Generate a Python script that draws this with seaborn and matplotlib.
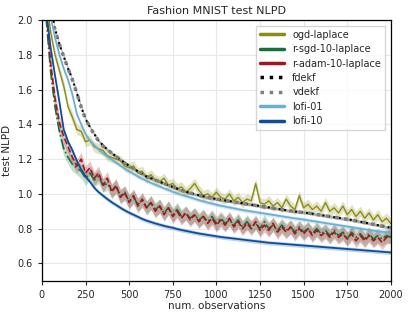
import numpy as np
import matplotlib
matplotlib.use('Agg')
import matplotlib.pyplot as plt
from matplotlib.lines import Line2D
import seaborn as sns

# observation counts (every 25 obs)
n_obs = list(range(0, 2001, 25))

ogd_laplace = [2.30, 2.12, 1.93, 1.80, 1.71, 1.62, 1.50, 1.44, 1.37, 1.36,
               1.30, 1.31, 1.27, 1.26, 1.25, 1.22, 1.21, 1.20, 1.19, 1.16,
               1.15, 1.16, 1.12, 1.13, 1.09, 1.11, 1.08, 1.07, 1.09, 1.05,
               1.06, 1.03, 1.04, 1.01, 1.03, 1.06, 1.02, 0.99, 1.00, 0.98,
               1.01, 0.98, 0.97, 1.00, 0.96, 0.98, 0.95, 0.97, 0.96, 1.06,
               0.95, 0.94, 0.96, 0.93, 0.95, 0.92, 0.97, 0.93, 0.91, 0.99,
               0.92, 0.94, 0.91, 0.93, 0.90, 0.95, 0.90, 0.92, 0.89, 0.93,
               0.88, 0.91, 0.87, 0.90, 0.86, 0.89, 0.85, 0.88, 0.84, 0.86,
               0.83]
r_sgd = [2.30, 2.00, 1.70, 1.50, 1.36, 1.26, 1.21, 1.17, 1.15, 1.13,
         1.09, 1.12, 1.08, 1.10, 1.05, 1.06, 1.02, 1.04, 0.99, 1.00,
         0.96, 0.98, 0.94, 0.96, 0.92, 0.95, 0.91, 0.93, 0.89, 0.92,
         0.88, 0.91, 0.87, 0.89, 0.86, 0.88, 0.85, 0.87, 0.84, 0.87,
         0.83, 0.86, 0.83, 0.85, 0.82, 0.85, 0.81, 0.84, 0.81, 0.83,
         0.80, 0.84, 0.80, 0.82, 0.79, 0.82, 0.79, 0.81, 0.78, 0.81,
         0.78, 0.80, 0.77, 0.80, 0.77, 0.79, 0.76, 0.79, 0.76, 0.78,
         0.74, 0.78, 0.75, 0.77, 0.74, 0.77, 0.74, 0.76, 0.74, 0.76,
         0.75]
r_adam = [2.30, 2.05, 1.75, 1.55, 1.41, 1.33, 1.27, 1.21, 1.16, 1.20,
          1.12, 1.15, 1.09, 1.12, 1.05, 1.09, 1.01, 1.05, 0.98, 1.01,
          0.95, 0.99, 0.93, 0.97, 0.92, 0.95, 0.90, 0.93, 0.88, 0.92,
          0.87, 0.90, 0.86, 0.89, 0.85, 0.88, 0.84, 0.87, 0.83, 0.86,
          0.82, 0.85, 0.82, 0.86, 0.81, 0.84, 0.80, 0.83, 0.80, 0.84,
          0.79, 0.82, 0.79, 0.83, 0.78, 0.81, 0.78, 0.81, 0.77, 0.80,
          0.77, 0.80, 0.76, 0.79, 0.76, 0.78, 0.75, 0.78, 0.75, 0.77,
          0.74, 0.77, 0.73, 0.76, 0.73, 0.76, 0.73, 0.75, 0.72, 0.75,
          0.76]
fdekf = [2.30, 2.22, 2.08, 1.95, 1.86, 1.79, 1.72, 1.66, 1.58, 1.50,
         1.43, 1.385, 1.345, 1.305, 1.28, 1.255, 1.235, 1.215, 1.195, 1.18,
         1.16, 1.145, 1.13, 1.115, 1.10, 1.09, 1.08, 1.07, 1.06, 1.05,
         1.04, 1.03, 1.02, 1.012, 1.006, 0.998, 0.992, 0.986, 0.98, 0.976,
         0.97, 0.966, 0.962, 0.958, 0.955, 0.95, 0.946, 0.942, 0.938, 0.934,
         0.93, 0.926, 0.922, 0.918, 0.914, 0.91, 0.906, 0.903, 0.899, 0.896,
         0.893, 0.89, 0.886, 0.882, 0.878, 0.874, 0.87, 0.866, 0.862, 0.858,
         0.854, 0.85, 0.845, 0.84, 0.835, 0.83, 0.825, 0.82, 0.815, 0.81,
         0.805]
vdekf = [2.30, 2.22, 2.08, 1.94, 1.86, 1.79, 1.72, 1.655, 1.58, 1.50,
         1.43, 1.385, 1.34, 1.305, 1.275, 1.255, 1.235, 1.215, 1.195, 1.175,
         1.16, 1.145, 1.13, 1.115, 1.10, 1.09, 1.08, 1.07, 1.06, 1.05,
         1.04, 1.03, 1.02, 1.012, 1.005, 0.998, 0.992, 0.986, 0.98, 0.975,
         0.97, 0.966, 0.962, 0.958, 0.954, 0.95, 0.946, 0.942, 0.938, 0.934,
         0.93, 0.926, 0.922, 0.918, 0.914, 0.91, 0.906, 0.902, 0.899, 0.896,
         0.893, 0.89, 0.886, 0.882, 0.878, 0.874, 0.87, 0.866, 0.862, 0.858,
         0.854, 0.85, 0.845, 0.84, 0.835, 0.83, 0.825, 0.82, 0.815, 0.81,
         0.805]
lofi_01 = [2.30, 2.18, 2.02, 1.90, 1.80, 1.72, 1.655, 1.57, 1.46, 1.40,
           1.345, 1.305, 1.28, 1.255, 1.235, 1.215, 1.198, 1.18, 1.162, 1.145,
           1.13, 1.115, 1.10, 1.087, 1.075, 1.063, 1.052, 1.042, 1.032, 1.022,
           1.012, 1.003, 0.995, 0.987, 0.98, 0.972, 0.964, 0.957, 0.95, 0.944,
           0.938, 0.932, 0.927, 0.922, 0.917, 0.912, 0.907, 0.903, 0.899, 0.895,
           0.891, 0.887, 0.883, 0.879, 0.875, 0.871, 0.867, 0.863, 0.859, 0.856,
           0.852, 0.848, 0.844, 0.84, 0.836, 0.832, 0.828, 0.824, 0.82, 0.816,
           0.812, 0.808, 0.804, 0.8, 0.796, 0.792, 0.788, 0.785, 0.782, 0.779,
           0.776]
lofi_10 = [2.30, 2.05, 1.84, 1.68, 1.53, 1.37, 1.30, 1.25, 1.19, 1.14,
           1.10, 1.07, 1.035, 1.01, 0.99, 0.97, 0.952, 0.936, 0.92, 0.905,
           0.892, 0.88, 0.868, 0.856, 0.846, 0.838, 0.83, 0.823, 0.816, 0.81,
           0.805, 0.798, 0.792, 0.787, 0.782, 0.777, 0.772, 0.768, 0.764, 0.76,
           0.756, 0.752, 0.749, 0.746, 0.743, 0.74, 0.737, 0.734, 0.731, 0.728,
           0.725, 0.722, 0.719, 0.717, 0.715, 0.713, 0.711, 0.709, 0.707, 0.705,
           0.703, 0.701, 0.699, 0.697, 0.695, 0.693, 0.691, 0.689, 0.687, 0.685,
           0.683, 0.681, 0.679, 0.677, 0.675, 0.673, 0.671, 0.669, 0.667, 0.665,
           0.663]

# half width of the shaded band (spread over seeds)
band = [0.03, 0.04, 0.04, 0.008, 0.01, 0.012, 0.012]

labels = ['ogd-laplace', 'r-sgd-10-laplace', 'r-adam-10-laplace',
          'fdekf', 'vdekf', 'lofi-01', 'lofi-10']
series = [ogd_laplace, r_sgd, r_adam, fdekf, vdekf, lofi_01, lofi_10]
colors = ['#8c8c14', '#17703a', '#a5141c', 'black', 'gray', '#6baed6', '#0b4f9c']
styles = ['-', '-.', '--', ':', ':', '-', '-']
widths = [1.0, 1.2, 1.2, 1.5, 2.5, 1.3, 1.3]

sns.set_style('ticks')
plt.rcParams['font.family'] = ['DejaVu Sans']

fig = plt.figure(figsize=(4.11, 3.18), dpi=100)
ax = fig.add_axes([0.102, 0.117, 0.849, 0.82])
ax.grid(True, color='#e8e8e8', linewidth=0.8)

for vals, lab, col, ls, lw, b in zip(series, labels, colors, styles, widths, band):
    sns.lineplot(x=n_obs, y=vals, ax=ax, color=col, linestyle=ls, linewidth=lw,
                 label=lab, legend=False)
    v = np.array(vals)
    ax.fill_between(n_obs, v - b, v + b, color=col, alpha=0.25, linewidth=0)

ax.set_xlim(0, 2000)
ax.set_ylim(0.5, 2.0)
ax.set_xticks([0, 250, 500, 750, 1000, 1250, 1500, 1750, 2000])
ax.set_yticks([0.6, 0.8, 1.0, 1.2, 1.4, 1.6, 1.8, 2.0])
ax.tick_params(labelsize=7, length=3, width=0.8)
for s in ax.spines.values():
    s.set_color('black')
    s.set_linewidth(0.9)
ax.set_xlabel('num. observations', fontsize=7.5, labelpad=1)
ax.set_ylabel('test NLPD', fontsize=7.5)
ax.set_title('Fashion MNIST test NLPD', fontsize=8, pad=4)

handles = [Line2D([], [], color=c, linestyle=('-' if ls in ['-', '-.', '--'] else ':'),
                  linewidth=2.5) for c, ls in zip(colors, styles)]
ax.legend(handles, labels, loc='upper right', fontsize=7, frameon=True,
          fancybox=False, edgecolor='#cccccc', borderaxespad=0.6,
          handlelength=2.5, labelspacing=0.45)

fig.savefig('out.png', dpi=100)
